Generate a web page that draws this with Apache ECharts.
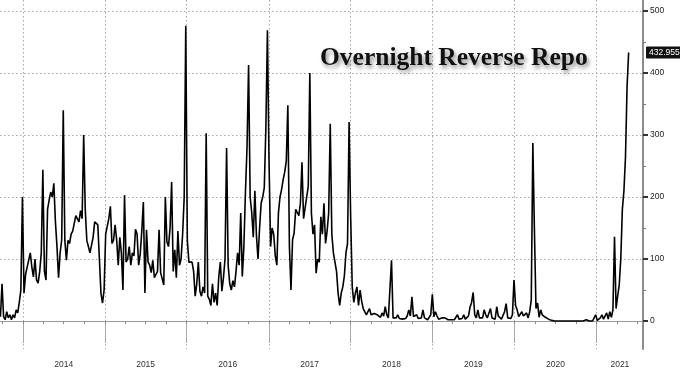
<!DOCTYPE html>
<html>
<head>
<meta charset="utf-8">
<script src="https://cdn.jsdelivr.net/npm/echarts@6/dist/echarts.min.js"></script>
<style>html,body{margin:0;padding:0;background:#fff}#c{width:680px;height:371px}</style>
</head>
<body>
<div id="c"></div>
<script>
// Weekly readings (Mondays) starting 2013-09-23, $bn
const startDate = '2013-09-23';
const stepDays = 7;
const v2013 = [7,60,7,2,15,5,10,2,10,5,18,13,30,50,200];
const v2014 = [45,75,87,90,110,87,71,100,66,61,80,110,244,80,66,180,195,208,200,222,160,120,70,110,131,340,130,98,130,125,140,145,147,170,168,160,178,165,300,180,130,128,110,108,135,160,158,155,100,45,29,50];
const v2015 = [140,142,165,185,125,130,155,131,90,135,110,50,203,95,100,120,90,110,105,148,140,90,108,145,192,45,147,95,90,78,98,70,75,80,147,78,68,58,200,128,120,150,224,80,115,70,145,90,100,140,200,476];
const v2016 = [130,95,95,95,80,40,60,95,48,40,55,45,303,40,35,25,60,30,45,25,71,95,48,70,100,279,90,60,50,65,55,80,110,90,174,72,120,208,280,413,200,175,135,210,138,100,150,190,200,215,311,469];
const v2017 = [260,120,150,140,105,90,174,200,212,228,240,258,348,120,50,131,142,180,180,170,190,256,165,165,200,217,400,174,140,155,77,100,95,168,140,190,125,145,174,318,140,110,110,80,45,25,45,55,73,110,125,321];
const v2018 = [168,55,30,45,55,25,50,32,20,18,10,15,20,10,8,12,12,10,8,6,13,8,23,10,5,7,98,5,7,5,10,4,7,3,5,4,8,18,8,39,7,4,10,4,7,5,18,5,3,2,6,10,43];
const v2019 = [7,15,8,3,4,5,3,5,3,2,5,2,3,2,4,10,3,2,4,10,3,5,8,22,30,46,10,5,18,5,3,5,18,10,5,4,20,5,8,3,23,8,5,3,3,15,28,5,3,4,10,66];
const v2020 = [25,18,7,5,15,8,10,13,5,15,34,287,147,20,29,6,18,10,13,6,8,3,5,1,1,0,0,0,0,0,0,0,0,0,0,0,0,0,2,0,0,0,0,0,0,2,0,0,0,0,0,10];
const v2021 = [1,3,5,10,3,5,13,3,15,6,18,136,20,40,58,100,180,210,265,378,432.955];

const axisRange = ['2013-09-21', '2021-07-27'];
const yearStarts = ['2014-01-01','2015-01-01','2016-01-01','2017-01-01','2018-01-01','2019-01-01','2020-01-01','2021-01-01'];
const yearLabelDates = ['2014-07-02','2015-07-02','2016-07-02','2017-07-02','2018-07-02','2019-07-02','2020-07-02','2021-04-15'];
const yTicks = [0,100,200,300,400,500];
const yMinorTicks = [50,150,250,350,450];
const yRange = [-45.16, 517.74];
const titleText = 'Overnight Reverse Repo';

const DAY = 86400000;
const toTs = s => { const p = s.split('-').map(Number); return Date.UTC(p[0], p[1]-1, p[2]); };
const values = [].concat(v2013, v2014, v2015, v2016, v2017, v2018, v2019, v2020, v2021);
const t0 = toTs(startDate);
const data = values.map((v, i) => [t0 + i * stepDays * DAY, v]);
const lastValue = values[values.length - 1];

const quarterTicks = [];
for (let y = 2013; y <= 2021; y++) {
  ['01','04','07','10'].forEach(m => quarterTicks.push(toTs(y + '-' + m + '-01')));
}

const dotted = { type: [1.5, 2.5], color: '#a8a8a8', width: 1 };
const labelFont = 'Liberation Sans';

const chart = echarts.init(document.getElementById('c'), null, { renderer: 'canvas' });
chart.setOption({
  animation: false,
  backgroundColor: '#fff',
  title: {
    text: titleText,
    left: 320, top: 45, padding: 0,
    textStyle: {
      fontFamily: 'Liberation Serif', fontWeight: 'bold', fontSize: 25.5, color: '#111',
      textShadowColor: 'rgba(0,0,0,0.45)', textShadowBlur: 4, textShadowOffsetX: 2, textShadowOffsetY: 3
    }
  },
  grid: { left: 0, right: 37, top: 0, bottom: 22, containLabel: false, outerBoundsMode: 'none' },
  xAxis: [
    {
      type: 'value', min: toTs(axisRange[0]), max: toTs(axisRange[1]), position: 'bottom',
      axisLine: { show: true, lineStyle: { color: '#9a9a9a', width: 1 } },
      axisTick: { show: true, customValues: yearStarts.map(toTs), length: 22, inside: false, lineStyle: { color: '#a8a8a8', width: 1 } },
      axisLabel: { show: true, customValues: yearLabelDates.map(toTs), formatter: v => String(new Date(v).getUTCFullYear()),
        fontSize: 8.5, fontFamily: labelFont, color: '#333', margin: 11, hideOverlap: false },
      splitLine: { show: true, lineStyle: dotted }
    },
    {
      type: 'value', min: toTs(axisRange[0]), max: toTs(axisRange[1]), position: 'bottom',
      axisLine: { show: false },
      axisTick: { show: true, customValues: quarterTicks, length: 3, lineStyle: { color: '#8a8a8a', width: 1 } },
      axisLabel: { show: false },
      splitLine: { show: false }
    }
  ],
  yAxis: [
    {
      type: 'value', position: 'right', min: yRange[0], max: yRange[1],
      axisLine: { show: true, lineStyle: { color: '#8c8c8c', width: 2 } },
      axisTick: { show: true, customValues: yTicks, length: 5, lineStyle: { color: '#333', width: 2 } },
      axisLabel: { show: true, customValues: yTicks, fontSize: 8.5, fontFamily: labelFont, color: '#222', margin: 7 },
      splitLine: { show: true, lineStyle: dotted }
    },
    {
      type: 'value', position: 'right', min: yRange[0], max: yRange[1],
      axisLine: { show: false },
      axisTick: { show: true, customValues: yMinorTicks, length: 3, lineStyle: { color: '#777', width: 1 } },
      axisLabel: { show: false },
      splitLine: { show: false }
    }
  ],
  series: [{
    type: 'line',
    data: data,
    showSymbol: false,
    symbol: 'none',
    lineStyle: { color: '#000', width: 1.6 },
    markLine: {
      silent: true, symbol: 'none',
      lineStyle: { color: 'rgba(0,0,0,0)', width: 0 },
      data: [{ yAxis: lastValue }],
      label: {
        show: true, position: 'end', distance: 3,
        formatter: () => String(lastValue),
        color: '#fff', backgroundColor: '#111', padding: [2, 3, 1, 3], borderRadius: 1,
        fontSize: 8.5, fontFamily: labelFont
      }
    }
  }]
});
</script>
</body>
</html>
